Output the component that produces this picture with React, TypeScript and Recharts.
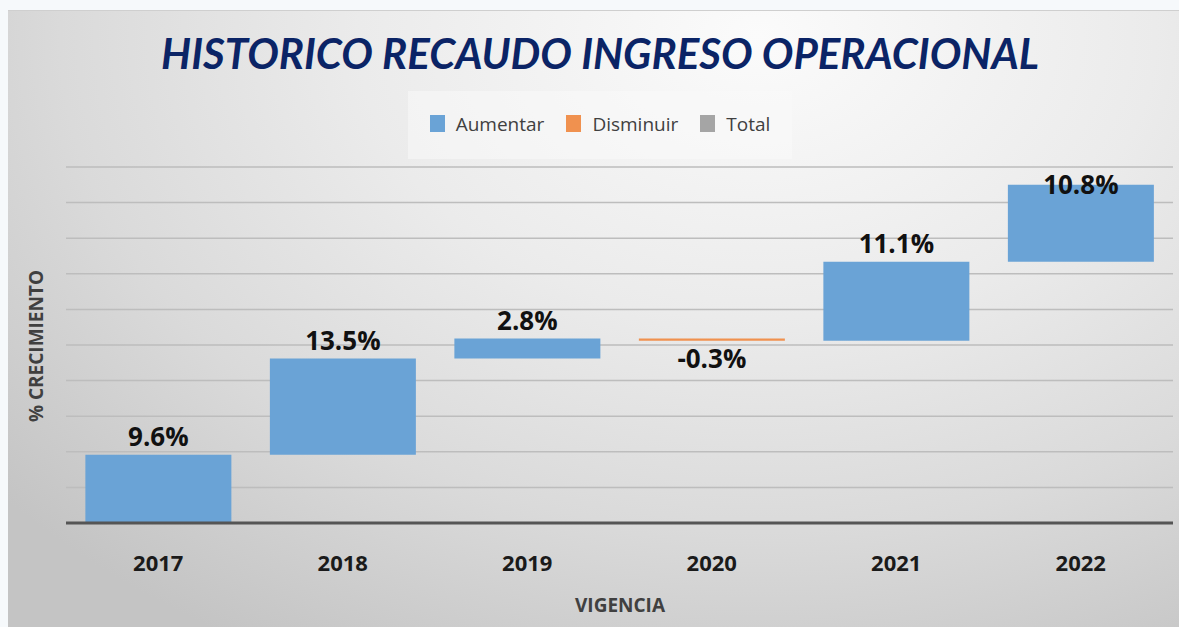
import { BarChart, Bar, XAxis, YAxis, CartesianGrid, LabelList } from 'recharts'

const years = ['2017', '2018', '2019', '2020', '2021', '2022']
const growth = [9.6, 13.5, 2.8, -0.3, 11.1, 10.8]
const yTicks = [0, 5, 10, 15, 20, 25, 30, 35, 40, 45, 50]

const legendItems = [
  { name: 'Aumentar', color: '#6aa3d6' },
  { name: 'Disminuir', color: '#f0914f' },
  { name: 'Total', color: '#a5a5a5' },
]

// running totals -> invisible base + up / down pieces
const rows = (() => {
  let acc = 0
  return years.map((year, i) => {
    const g = growth[i]
    const next = acc + g
    const row = {
      year,
      base: Math.min(acc, next),
      up: g > 0 ? g : 0,
      down: g < 0 ? -g : 0,
      pct: g,
    }
    acc = next
    return row
  })
})()

const W = 1171
const H = 617
const PLOT_TOP = 156

const labelFont = { fontFamily: '"Open Sans", sans-serif', fontWeight: 700, fontSize: 26, fill: '#111' }

function UpLabel(props: any) {
  const { x, y, width, value } = props
  const g = Number(value)
  if (!(g > 0)) return null
  const by = Math.max(y - 9, PLOT_TOP + 27)
  return (
    <text x={x + width / 2} y={by} textAnchor="middle" {...labelFont}>
      {g.toFixed(1)}%
    </text>
  )
}

function DownLabel(props: any) {
  const { x, y, width, height, value } = props
  const g = Number(value)
  if (!(g < 0)) return null
  return (
    <text x={x + width / 2} y={y + height + 27} textAnchor="middle" {...labelFont}>
      {g.toFixed(1)}%
    </text>
  )
}

function YearTick(props: any) {
  const { x, y, payload } = props
  return (
    <text x={x} y={y + 40} textAnchor="middle" fontFamily='"Open Sans", sans-serif' fontWeight={700} fontSize={22} fill="#1a1a1a">
      {payload.value}
    </text>
  )
}

const NoTick = () => <g />

export default function App() {
  return (
    <div style={{ position: 'absolute', left: 0, top: 0, width: 1179, height: 627, background: '#f6f9fb', overflow: 'hidden' }}>
      <div
        style={{
          position: 'absolute',
          left: 8,
          top: 10,
          width: W,
          height: H,
          borderTop: '1px solid #cfcfcf',
          boxSizing: 'border-box',
          background:
            'radial-gradient(ellipse 85% 115% at 64% 4%, #fbfbfb 0%, #ebebeb 40%, #dadada 70%, #c4c4c4 100%)',
        }}
      >
        <div
          style={{
            position: 'absolute',
            left: 0,
            width: 1184,
            top: 17,
            textAlign: 'center',
            fontFamily: 'Lato, sans-serif',
            fontWeight: 700,
            fontStyle: 'italic',
            fontSize: 42,
            color: '#0b2466',
            lineHeight: '50px',
          }}
        >
          HISTORICO RECAUDO INGRESO OPERACIONAL
        </div>

        <div
          style={{
            position: 'absolute',
            left: 400,
            top: 80,
            width: 384,
            height: 68,
            background: 'rgba(250,250,250,0.55)',
            display: 'flex',
            alignItems: 'center',
            justifyContent: 'center',
            gap: 22,
            fontFamily: '"Open Sans", sans-serif',
            fontSize: 19,
            color: '#404040',
          }}
        >
          {legendItems.map((it) => (
            <div key={it.name} style={{ display: 'flex', alignItems: 'center', gap: 11, marginTop: -3 }}>
              <span style={{ display: 'inline-block', width: 15, height: 17, background: it.color }} />
              <span>{it.name}</span>
            </div>
          ))}
        </div>

        <div
          style={{
            position: 'absolute',
            left: 28,
            top: 335,
            transform: 'translate(-50%, -50%) rotate(-90deg)',
            whiteSpace: 'nowrap',
            fontFamily: '"Open Sans", sans-serif',
            fontWeight: 700,
            fontSize: 19,
            color: '#404040',
          }}
        >
          % CRECIMIENTO
        </div>

        <div
          style={{
            position: 'absolute',
            left: 612,
            top: 594,
            transform: 'translate(-50%, -50%)',
            fontFamily: '"Open Sans", sans-serif',
            fontWeight: 700,
            fontSize: 19,
            color: '#404040',
          }}
        >
          VIGENCIA
        </div>

        <div style={{ position: 'absolute', left: 0, top: 0 }}>
          <BarChart
            width={W}
            height={H}
            data={rows}
            margin={{ top: PLOT_TOP, right: 6, bottom: 65, left: 58 }}
            barCategoryGap="10.5%"
          >
            <CartesianGrid vertical={false} stroke="#bdbdbd" strokeWidth={1.5} />
            <YAxis width={0} domain={[0, 50]} ticks={yTicks} tick={<NoTick />} axisLine={false} tickLine={false} />
            <XAxis
              dataKey="year"
              height={40}
              axisLine={{ stroke: '#555', strokeWidth: 3 }}
              tickLine={false}
              tick={<YearTick />}
              interval={0}
            />
            <Bar dataKey="base" stackId="w" fill="transparent" isAnimationActive={false} />
            <Bar dataKey="up" stackId="w" fill="#6aa3d6" isAnimationActive={false}>
              <LabelList dataKey="pct" content={<UpLabel />} />
            </Bar>
            <Bar dataKey="down" stackId="w" fill="#f0914f" isAnimationActive={false}>
              <LabelList dataKey="pct" content={<DownLabel />} />
            </Bar>
          </BarChart>
        </div>
      </div>
    </div>
  )
}
